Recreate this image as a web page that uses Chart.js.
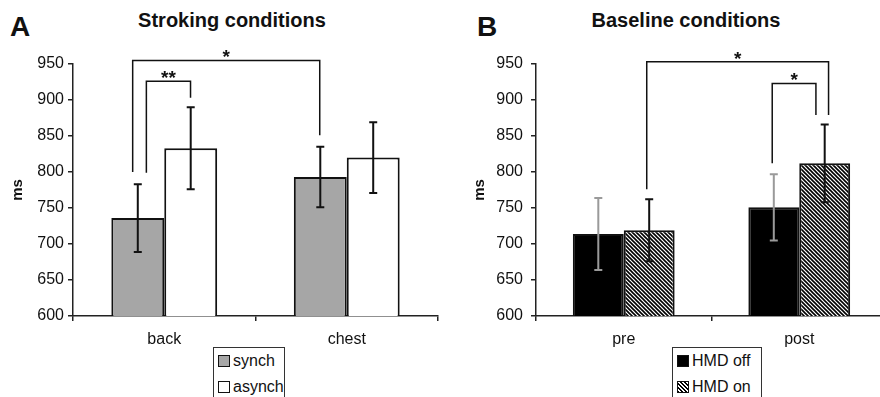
<!DOCTYPE html>
<html>
<head>
<meta charset="utf-8">
<script src="https://cdn.jsdelivr.net/npm/chart.js@4"></script>
<style>
  html, body { margin: 0; padding: 0; background: #fff; }
  body { width: 880px; height: 397px; position: relative; overflow: hidden;
         font-family: 'Liberation Sans', Arial, sans-serif; color: #111; }
  canvas { position: absolute; top: 0; }
  #cA { left: 0; }
  #cB { left: 440px; }
  .panel { position: absolute; font-weight: bold; font-size: 28px; top: 11px; }
  .title { position: absolute; font-weight: bold; font-size: 20px; top: 9px;
           width: 260px; text-align: center; }
  .legend { position: absolute; top: 347px; height: 60px; border: 1px solid #333;
            background: #fff; font-size: 16px; }
  .legend .item { position: absolute; left: 4px; white-space: nowrap; }
  .legend .sw { display: inline-block; width: 10px; height: 10px; border: 1.5px solid #111;
                vertical-align: -1px; margin-right: 3px; }
</style>
</head>
<body>
<div class="panel" style="left:10px">A</div>
<div class="title" style="left:102px">Stroking conditions</div>
<div class="panel" style="left:477px">B</div>
<div class="title" style="left:556px">Baseline conditions</div>
<canvas id="cA" width="440" height="397"></canvas>
<canvas id="cB" width="450" height="397"></canvas>
<div class="legend" id="legA" style="left:213px;width:70px"></div>
<div class="legend" id="legB" style="left:672px;width:88px"></div>

<script>
/* ─── DATA ────────────────────────────────────────────────── */
const categoriesA = ['back', 'chest'];
const synch       = [736, 793];
const synchErr    = [47, 42];
const asynch      = [833, 820];
const asynchErr   = [57, 49];

const categoriesB = ['pre', 'post'];
const hmdOff      = [714, 751];
const hmdOffErr   = [50, 46];
const hmdOn       = [719, 812];
const hmdOnErr    = [43, 54];

const yTicks = [600, 650, 700, 750, 800, 850, 900, 950];

// significance brackets: [category, offset in category widths, value]
const bracketsA = [
  { from: [0, -0.173, 800], to: [1, -0.148, 851], top: 955, label: '*' },
  { from: [0, -0.098, 799], to: [0,  0.144, 903], top: 926, label: '**' },
];
const bracketsB = [
  { from: [0,  0.131, 776], to: [1, 0.167, 879], top: 953, label: '*' },
  { from: [1, -0.154, 812], to: [1, 0.095, 879], top: 923, label: '*' },
];

/* ─── HATCH PATTERN ───────────────────────────────────────── */
function hatch() {
  const s = 4;
  const c = document.createElement('canvas');
  c.width = s; c.height = s;
  const g = c.getContext('2d');
  g.fillStyle = '#fff';
  g.fillRect(0, 0, s, s);
  g.strokeStyle = '#000';
  g.lineWidth = 1.6;
  for (const k of [-s, 0, s]) {
    g.beginPath();
    g.moveTo(k - 1, -1);
    g.lineTo(k + s + 1, s + 1);
    g.stroke();
  }
  return g.createPattern(c, 'repeat');
}

/* ─── PLUGINS ─────────────────────────────────────────────── */
const errorBars = {
  id: 'errorBars',
  afterDatasetsDraw(chart) {
    const { ctx, scales: { y } } = chart;
    chart.data.datasets.forEach((ds, i) => {
      chart.getDatasetMeta(i).data.forEach((bar, j) => {
        const hi = y.getPixelForValue(ds.data[j] + ds.err[j]);
        const lo = y.getPixelForValue(ds.data[j] - ds.err[j]);
        ctx.save();
        ctx.strokeStyle = ds.errColor;
        ctx.lineWidth = 2;
        ctx.beginPath();
        ctx.moveTo(bar.x, hi); ctx.lineTo(bar.x, lo);
        ctx.moveTo(bar.x - 4, hi); ctx.lineTo(bar.x + 4, hi);
        ctx.moveTo(bar.x - 4, lo); ctx.lineTo(bar.x + 4, lo);
        ctx.stroke();
        ctx.restore();
      });
    });
  },
};

const brackets = {
  id: 'brackets',
  afterDraw(chart, args, opts) {
    const { ctx, scales: { x, y } } = chart;
    const cw = x.width / chart.data.labels.length;
    const px = p => x.getPixelForValue(p[0]) + p[1] * cw;
    (opts.list || []).forEach(b => {
      const x1 = px(b.from), x2 = px(b.to), yt = y.getPixelForValue(b.top);
      ctx.save();
      ctx.strokeStyle = '#111';
      ctx.lineWidth = 1.5;
      ctx.beginPath();
      ctx.moveTo(x1, y.getPixelForValue(b.from[2]));
      ctx.lineTo(x1, yt);
      ctx.lineTo(x2, yt);
      ctx.lineTo(x2, y.getPixelForValue(b.to[2]));
      ctx.stroke();
      ctx.fillStyle = '#111';
      ctx.font = 'bold 19px "Liberation Sans", Arial';
      ctx.textAlign = 'center';
      ctx.textBaseline = 'alphabetic';
      ctx.fillText(b.label, (x1 + x2) / 2, yt + 3);
      ctx.restore();
    });
  },
};

/* ─── CHART BUILDER ───────────────────────────────────────── */
function makeChart(id, labels, datasets, list, yWidth, titlePad, tickPad, padRight) {
  return new Chart(document.getElementById(id), {
    type: 'bar',
    data: { labels, datasets },
    plugins: [errorBars, brackets],
    options: {
      responsive: false,
      animation: false,
      devicePixelRatio: 1,
      layout: { padding: { top: 64, right: padRight, left: 0, bottom: 0 } },
      plugins: {
        legend: { display: false },
        tooltip: { enabled: false },
        brackets: { list },
      },
      datasets: { bar: { categoryPercentage: 0.58, barPercentage: 1 } },
      scales: {
        x: {
          afterFit: s => { s.height = 81; },
          border: { color: '#222', width: 1.5 },
          grid: { drawOnChartArea: false, drawTicks: true, tickLength: 5, color: '#222', lineWidth: 1.5 },
          ticks: { color: '#111', padding: 9, font: { family: 'Liberation Sans', size: 16 } },
        },
        y: {
          min: 600,
          max: 950,
          afterFit: s => { s.width = yWidth; },
          afterBuildTicks: s => { s.ticks = yTicks.map(v => ({ value: v })); },
          border: { color: '#222', width: 1.5 },
          grid: { drawOnChartArea: false, drawTicks: true, tickLength: 5, color: '#222', lineWidth: 1.5 },
          ticks: { color: '#111', padding: tickPad, font: { family: 'Liberation Sans', size: 16 } },
          title: {
            display: true, text: 'ms', color: '#111',
            padding: { top: titlePad, bottom: 0 },
            font: { family: 'Liberation Sans', size: 15, weight: 'bold' },
          },
        },
      },
    },
  });
}

makeChart('cA', categoriesA, [
  { label: 'synch',  data: synch,  err: synchErr,  errColor: '#111',
    backgroundColor: '#a6a6a6', borderColor: '#111', borderWidth: 2 },
  { label: 'asynch', data: asynch, err: asynchErr, errColor: '#111',
    backgroundColor: '#fff',    borderColor: '#111', borderWidth: 2 },
], bracketsA, 73, 9, 4, 2);

makeChart('cB', categoriesB, [
  { label: 'HMD off', data: hmdOff, err: hmdOffErr, errColor: '#9a9a9a',
    backgroundColor: '#000', borderColor: '#111', borderWidth: 2 },
  { label: 'HMD on',  data: hmdOn,  err: hmdOnErr,  errColor: '#111',
    backgroundColor: hatch(), borderColor: '#111', borderWidth: 2 },
], bracketsB, 96, 31, 8, 3);

/* ─── LEGENDS ─────────────────────────────────────────────── */
function legend(id, items) {
  const el = document.getElementById(id);
  items.forEach((it, i) => {
    const d = document.createElement('div');
    d.className = 'item';
    d.style.top = (4 + i * 26) + 'px';
    const sw = document.createElement('span');
    sw.className = 'sw';
    sw.style.background = it.fill;
    d.appendChild(sw);
    d.appendChild(document.createTextNode(it.label));
    el.appendChild(d);
  });
}
const stripes = 'repeating-linear-gradient(45deg, #000 0 1.4px, #fff 1.4px 2.8px)';
legend('legA', [{ label: 'synch', fill: '#a6a6a6' }, { label: 'asynch', fill: '#fff' }]);
legend('legB', [{ label: 'HMD off', fill: '#000' }, { label: 'HMD on', fill: stripes }]);
</script>
</body>
</html>
